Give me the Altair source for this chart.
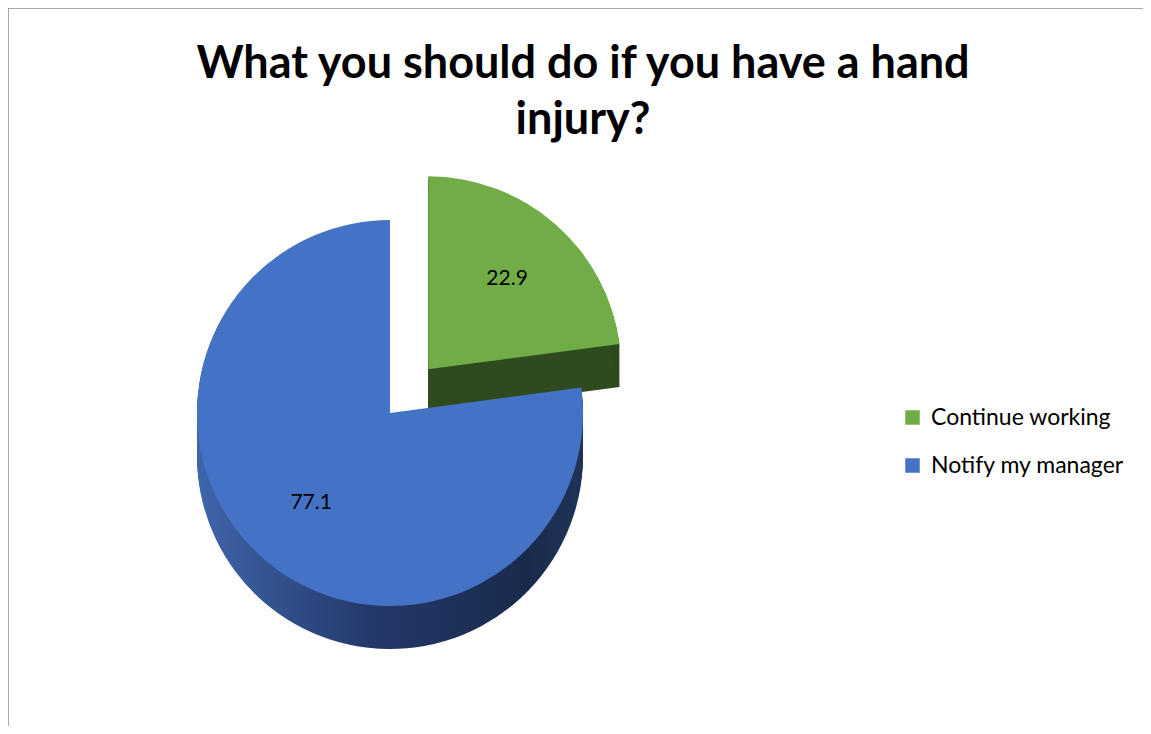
import math
import altair as alt
import pandas as pd

# ---- data ----
categories = ["Continue working", "Notify my manager"]
values = [22.9, 77.1]
top_colors = ["#70ad47", "#4472c4"]
title_lines = ["What you should do if you have a hand", "injury?"]

# ---- layout constants ----
W, H = 1135, 718
CX, CY = 382, 405
R = 193
EXPLODE = 58
DEPTH = 44
FONT = "Lato"

df = pd.DataFrame({"category": categories, "value": values,
                   "order": list(range(len(categories)))})

base = (
    alt.Chart(df)
    .transform_window(end="sum(value)", sort=[alt.SortField("order")], frame=[None, 0])
    .transform_calculate(start="datum.end - datum.value")
    .transform_calculate(
        mid="(datum.start + datum.end) / 100 * PI",
        ex=f"datum.category == '{categories[0]}' ? {EXPLODE} : 0",
    )
    .transform_calculate(
        px=f"{CX} + datum.ex * sin(datum.mid)",
        py=f"{CY} - datum.ex * cos(datum.mid)",
    )
)

theta = alt.Theta("start:Q", scale=alt.Scale(domain=[0, 100], range=[0, 2 * math.pi]))
theta2 = alt.Theta2("end:Q")

blue_side = alt.Gradient(
    gradient="linear", x1=0, x2=1, y1=0, y2=0,
    stops=[alt.GradientStop(color="#3f66ab", offset=0),
           alt.GradientStop(color="#24396a", offset=0.45),
           alt.GradientStop(color="#1a2a4c", offset=0.85),
           alt.GradientStop(color="#1f3358", offset=1)],
)


def side(cat, fill):
    return (
        base.transform_filter(alt.datum.category == cat)
        .transform_calculate(depths=f"sequence(1, {DEPTH + 1}, 2)")
        .transform_flatten(["depths"], as_=["d"])
        .transform_calculate(sy="datum.py + datum.d")
        .mark_arc(outerRadius=R, fill=fill, strokeWidth=0)
        .encode(theta=theta, theta2=theta2,
                x=alt.X("px:Q", scale=None), y=alt.Y("sy:Q", scale=None))
    )


def top(cat):
    return (
        base.transform_filter(alt.datum.category == cat)
        .mark_arc(outerRadius=R, strokeWidth=0)
        .encode(
            theta=theta, theta2=theta2,
            x=alt.X("px:Q", scale=None), y=alt.Y("py:Q", scale=None),
            color=alt.Color(
                "category:N",
                scale=alt.Scale(domain=categories, range=top_colors),
                legend=alt.Legend(
                    orient="none", legendX=893, legendY=398, title=None,
                    labelFont=FONT, labelFontSize=23, labelColor="#000000",
                    labelLimit=0,
                    symbolType="square", symbolSize=210, symbolStrokeWidth=0,
                    rowPadding=24, labelOffset=7,
                ),
            ),
        )
    )


labels = (
    base.transform_calculate(
        lx=f"datum.px + {0.62 * R} * sin(datum.mid)",
        ly=f"datum.py - {0.62 * R} * cos(datum.mid)",
        lab="format(datum.value, '.1f')",
    )
    .mark_text(font=FONT, fontSize=21, color="#000000")
    .encode(x=alt.X("lx:Q", scale=None), y=alt.Y("ly:Q", scale=None), text="lab:N")
)

title = (
    alt.Chart(df.head(1))
    .mark_text(text=title_lines, font=FONT, fontWeight="bold", fontSize=45,
               lineHeight=56, baseline="alphabetic", align="center", color="#000000")
    .encode(x=alt.value(575), y=alt.value(70))
)

border_top = alt.Chart(df.head(1)).mark_rule(color="#8c8c8c", strokeWidth=1.5).encode(
    x=alt.value(0), x2=alt.value(W), y=alt.value(0))
border_left = alt.Chart(df.head(1)).mark_rule(color="#8c8c8c", strokeWidth=1.5).encode(
    x=alt.value(0), y=alt.value(0), y2=alt.value(H))

chart = (
    alt.layer(
        border_top, border_left, title,
        side(categories[0], "#2e4a1e"), top(categories[0]),
        side(categories[1], blue_side), top(categories[1]),
        labels,
    )
    .properties(width=W, height=H, autosize=alt.AutoSizeParams(type="none"), padding=0,
                background="#ffffff")
    .configure_view(stroke=None)
)

chart.save("out.html", embed_options={"renderer": "svg", "actions": False})
